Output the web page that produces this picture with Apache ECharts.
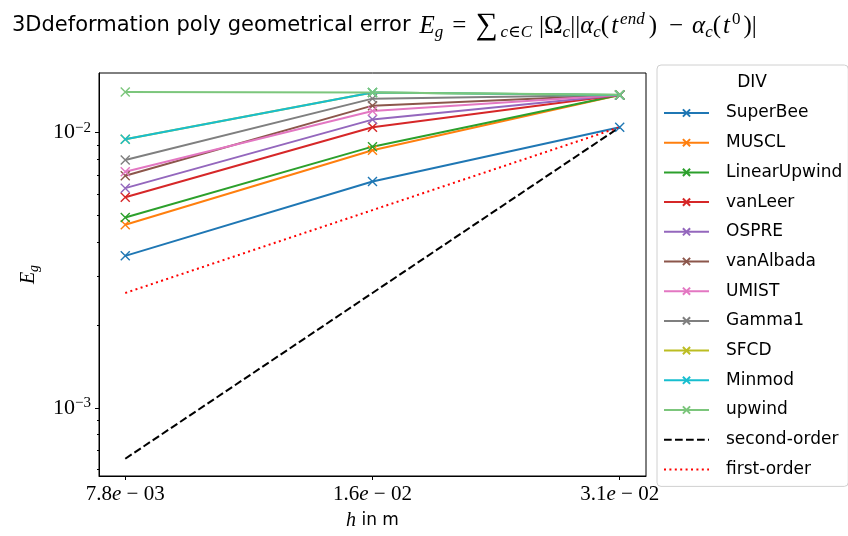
<!DOCTYPE html>
<html>
<head>
<meta charset="utf-8">
<title>3Ddeformation poly geometrical error</title>
<script src="https://cdn.jsdelivr.net/npm/echarts@6/dist/echarts.min.js"></script>
<style>
    html, body { margin: 0; padding: 0; background: #fff; }
    #chart { width: 848px; height: 536px; }
</style>
</head>
<body>
<div id="chart"></div>
<script>
//----------------------------------------------------------------------------------
// data
//----------------------------------------------------------------------------------

// mesh size h in m (x axis)
var hValues = [0.0078125, 0.015625, 0.03125];

// geometrical error E_g per scheme, one value per h
var superBee     = [0.00357, 0.00665, 0.01047];
var muscl        = [0.00463, 0.00863, 0.0137];
var linearUpwind = [0.00492, 0.0089, 0.0137];
var vanLeer      = [0.00583, 0.01047, 0.0137];
var ospre        = [0.00629, 0.01116, 0.0137];
var vanAlbada    = [0.00698, 0.01254, 0.0137];
var umist        = [0.00722, 0.0120, 0.0137];
var gamma1       = [0.00796, 0.0133, 0.0137];
var sfcd         = [0.00946, 0.0140, 0.0137];
var minmod       = [0.00946, 0.0140, 0.0137];
var upwind       = [0.01407, 0.0140, 0.01375];

// reference slopes
var secondOrder = [0.000654, 0.002617, 0.01047];
var firstOrder  = [0.002617, 0.005234, 0.01047];

var schemeNames = ['SuperBee', 'MUSCL', 'LinearUpwind', 'vanLeer', 'OSPRE', 'vanAlbada',
                   'UMIST', 'Gamma1', 'SFCD', 'Minmod', 'upwind'];
var schemeData = [superBee, muscl, linearUpwind, vanLeer, ospre, vanAlbada,
                  umist, gamma1, sfcd, minmod, upwind];

// axis ticks
var xTicks = [0.0078125, 0.015625, 0.03125];
var yMajorTicks = [0.001, 0.01];
var yMinorTicks = [0.0006, 0.0007, 0.0008, 0.0009,
                   0.002, 0.003, 0.004, 0.005, 0.006, 0.007, 0.008, 0.009];

//----------------------------------------------------------------------------------
// styles
//----------------------------------------------------------------------------------

var colors = ['#1f77b4', '#ff7f0e', '#2ca02c', '#d62728', '#9467bd', '#8c564b',
              '#e377c2', '#7f7f7f', '#bcbd22', '#17becf', '#7cc67c'];
var crossPath = 'path://M0,0L10,10M0,10L10,0';
var serif = '"Liberation Serif", "DejaVu Serif", serif';
var sans = '"DejaVu Sans", sans-serif';

function toPoints(values) {
    return hValues.map(function(h, k) {
        return [h, values[k]];
    });
}

// 7.8e-03 style labels
function sciLabel(value) {
    var exp = Math.floor(Math.log10(value));
    var mant = (value / Math.pow(10, exp)).toFixed(1);
    var e = (exp < 0 ? '−' : '+') + (Math.abs(exp) < 10 ? '0' : '') + Math.abs(exp);
    return '{n|' + mant + '}{i|e}{n| ' + e.charAt(0) + ' ' + e.slice(1) + '}';
}

function powLabel(value) {
    var exp = Math.round(Math.log10(value));
    return '{b|10}{s|' + (exp < 0 ? '−' : '') + Math.abs(exp) + '}';
}

// rich text piece for the title formula
function mathStyle(size, italic, valign, pad) {
    var s = {
        fontFamily: serif,
        fontWeight: 'normal',
        fontStyle: italic ? 'italic' : 'normal',
        fontSize: size,
        color: '#000',
        lineHeight: valign ? 12 : 30
    };
    if (valign) s.verticalAlign = valign;
    if (pad) s.padding = pad;
    return s;
}

var series = [];
for (var i = 0; i < schemeNames.length; i++) {
    series.push({
        name: schemeNames[i],
        type: 'line',
        data: toPoints(schemeData[i]),
        symbol: crossPath,
        symbolSize: 9,
        showAllSymbol: true,
        lineStyle: { width: 2, color: colors[i] },
        itemStyle: { color: colors[i], borderColor: colors[i], borderWidth: 1.4 },
        emphasis: { disabled: true }
    });
}
series.push({
    name: 'second-order',
    type: 'line',
    data: toPoints(secondOrder),
    symbol: 'none',
    lineStyle: { width: 2, color: '#000', type: [7.7, 3.3] },
    itemStyle: { color: '#000' },
    emphasis: { disabled: true }
});
series.push({
    name: 'first-order',
    type: 'line',
    data: toPoints(firstOrder),
    symbol: 'none',
    lineStyle: { width: 2, color: '#ff0000', type: [2, 3.4] },
    itemStyle: { color: '#ff0000' },
    emphasis: { disabled: true }
});

var legendData = schemeNames.map(function(n) { return { name: n }; });
legendData.push({ name: 'second-order', itemStyle: { opacity: 0 } });
legendData.push({ name: 'first-order', itemStyle: { opacity: 0 } });

var chart = echarts.init(document.getElementById('chart'));

var option = {
    animation: false,
    backgroundColor: '#fff',
    title: {
        left: 7,
        top: 6,
        text: '{t|3Ddeformation poly geometrical error}{E|E}{sub|g}{eq|=}{big|∑}{subw|c∈C}' +
              '{bar||Ω}{sub|c}{mu|||}{mi|α}{sub|c}{par|(}{t2|t}{sup|end}{mu|)}{op|−}' +
              '{al|α}{sub|c}{par|(}{t2|t}{supu|0}{end|)|}',
        textStyle: {
            fontWeight: 'normal',
            rich: {
                t: { fontFamily: sans, fontWeight: 'normal', fontSize: 21, color: '#000', lineHeight: 30 },
                E: mathStyle(25, true, null, [0, 0, 0, 9]),
                mi: mathStyle(25, true),
                mu: mathStyle(25, false),
                eq: mathStyle(25, false, null, [0, 9, 0, 9]),
                op: mathStyle(25, false, null, [0, 5, 0, 12]),
                big: mathStyle(31, false, null, [0, 3, 0, 0]),
                bar: mathStyle(25, false, null, [0, 0, 0, 7]),
                par: mathStyle(25, false, null, [0, 2, 0, 0]),
                t2: mathStyle(25, true, null, [0, 1, 0, 0]),
                al: mathStyle(25, true, null, [0, 0, 0, 4]),
                end: mathStyle(25, false, null, [0, 0, 0, 2]),
                sub: mathStyle(17, true, 'bottom'),
                subw: mathStyle(17, true, 'bottom'),
                sup: mathStyle(17, true, 'top', [0, 4, 0, 1]),
                supu: mathStyle(17, false, 'top', [0, 1, 0, 1])
            }
        }
    },
    grid: {
        left: 99,
        right: 202,
        top: 73,
        bottom: 57,
        show: true,
        borderColor: '#000',
        borderWidth: 1,
        backgroundColor: 'transparent'
    },
    legend: {
        orient: 'vertical',
        left: 657,
        top: 65,
        padding: [38, 6, 7, 6],
        itemWidth: 45,
        itemHeight: 9,
        itemGap: 9.7,
        backgroundColor: '#fff',
        borderColor: '#d0d0d0',
        borderWidth: 1,
        borderRadius: 4,
        textStyle: {
            fontFamily: sans,
            fontSize: 17,
            color: '#000',
            lineHeight: 20,
            padding: [0, 0, 0, 12]
        },
        data: legendData
    },
    graphic: [{
        type: 'text',
        x: 752,
        y: 83,
        z: 100,
        style: {
            text: 'DIV',
            fontFamily: sans,
            fontSize: 17,
            fill: '#000',
            align: 'center',
            verticalAlign: 'middle'
        }
    }],
    xAxis: {
        type: 'log',
        logBase: 2,
        min: 0.007258,
        max: 0.03364,
        name: '{i|h}{t| in m}',
        nameLocation: 'middle',
        nameGap: 35,
        nameTextStyle: {
            rich: {
                i: { fontFamily: serif, fontStyle: 'italic', fontSize: 20, color: '#000' },
                t: { fontFamily: sans, fontSize: 17, color: '#000' }
            }
        },
        splitLine: { show: false },
        axisLine: { show: true, lineStyle: { color: '#000', width: 1 } },
        axisTick: { show: true, length: 4, customValues: xTicks, lineStyle: { color: '#000' } },
        axisLabel: {
            customValues: xTicks,
            margin: 8,
            formatter: sciLabel,
            rich: {
                n: { fontFamily: serif, fontSize: 21, color: '#000', lineHeight: 20 },
                i: { fontFamily: serif, fontStyle: 'italic', fontSize: 21, color: '#000', lineHeight: 20 }
            }
        }
    },
    yAxis: [{
        type: 'log',
        logBase: 10,
        min: 0.000566,
        max: 0.01648,
        name: '{i|E}{s|g}',
        nameLocation: 'middle',
        nameRotate: 90,
        nameGap: 58,
        nameTextStyle: {
            rich: {
                i: { fontFamily: serif, fontStyle: 'italic', fontSize: 20, color: '#000', lineHeight: 24 },
                s: { fontFamily: serif, fontStyle: 'italic', fontSize: 14, color: '#000', lineHeight: 10, verticalAlign: 'bottom' }
            }
        },
        splitLine: { show: false },
        axisLine: { show: true, lineStyle: { color: '#000', width: 1 } },
        axisTick: { show: true, length: 4, customValues: yMajorTicks, lineStyle: { color: '#000' } },
        axisLabel: {
            customValues: yMajorTicks,
            margin: 8,
            formatter: powLabel,
            rich: {
                b: { fontFamily: serif, fontSize: 22, color: '#000', lineHeight: 24 },
                s: { fontFamily: serif, fontSize: 15, color: '#000', lineHeight: 12, verticalAlign: 'top' }
            }
        }
    }, {
        // minor ticks only
        type: 'log',
        logBase: 10,
        min: 0.000566,
        max: 0.01648,
        position: 'left',
        splitLine: { show: false },
        axisLine: { show: false },
        axisTick: { show: true, length: 2, customValues: yMinorTicks, lineStyle: { color: '#000' } },
        axisLabel: { show: false, customValues: yMinorTicks }
    }],
    series: series
};

chart.setOption(option);
</script>
</body>
</html>
